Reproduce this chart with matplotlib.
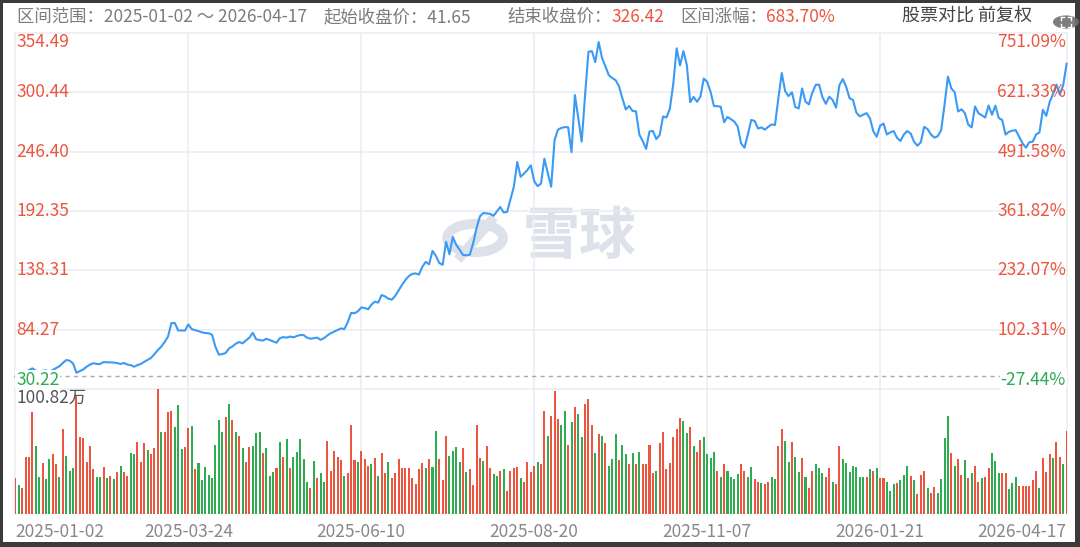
import matplotlib
matplotlib.use("Agg")
import matplotlib.pyplot as plt
from matplotlib.patches import Rectangle, Circle

plt.rcParams['font.family'] = ['Noto Sans CJK SC', 'DejaVu Sans']

W, H = 1080, 547

# ---- data ----
tick_idx = [0, 51, 102, 153, 204, 255, 310]
tick_labels = ['2025-01-02', '2025-03-24', '2025-06-10', '2025-08-20',
               '2025-11-07', '2026-01-21', '2026-04-17']

price_levels = [354.49, 300.44, 246.40, 192.35, 138.31, 84.27, 30.22]
pct_labels = ['751.09%', '621.33%', '491.58%', '361.82%', '232.07%', '102.31%', '-27.44%']

start_close = 41.65
end_close = 326.42
change_pct = '683.70%'
vol_max = 100.82  # 万

close = [
    41.6, 42.5, 43.0, 45.5, 47.5, 49.0, 47.0, 46.0, 46.8, 47.2,
    46.0, 47.5, 49.3, 51.0, 54.0, 56.6, 56.0, 53.5, 45.0, 46.5,
    48.0, 50.5, 52.5, 53.7, 53.0, 53.0, 54.8, 54.5, 54.5, 54.3,
    53.8, 53.0, 53.9, 52.5, 52.0, 50.5, 52.0, 53.0, 55.0, 56.8,
    58.5, 62.0, 65.7, 68.7, 73.0, 77.9, 90.3, 90.3, 83.6, 83.5,
    83.4, 89.0, 84.8, 83.8, 83.0, 81.8, 81.2, 81.0, 79.6, 68.5,
    61.5, 62.0, 63.0, 67.2, 69.0, 71.5, 73.0, 71.8, 74.5, 77.0,
    81.4, 75.5, 74.8, 74.3, 76.0, 74.8, 73.5, 72.4, 76.5, 77.5,
    77.0, 78.0, 77.3, 78.5, 79.4, 79.3, 77.0, 76.0, 76.5, 77.0,
    75.0, 76.5, 79.0, 81.0, 82.5, 84.0, 85.4, 84.8, 91.0, 99.5,
    99.2, 101.0, 104.5, 104.0, 102.8, 107.0, 109.8, 108.9, 115.8, 114.6,
    112.5, 111.6, 115.0, 120.0, 125.0, 129.5, 133.0, 135.0, 135.5, 134.5,
    141.5, 146.0, 143.8, 156.0, 151.5, 145.0, 143.3, 164.2, 153.0, 168.7,
    161.5, 157.0, 152.3, 152.0, 152.5, 163.0, 177.0, 187.5, 190.5, 190.2,
    189.8, 188.0, 192.0, 196.0, 191.0, 191.5, 203.0, 214.5, 237.0, 223.5,
    226.5, 229.8, 234.0, 219.5, 215.0, 217.3, 240.0, 227.0, 214.5, 257.0,
    266.5, 268.0, 268.8, 268.6, 246.0, 298.0, 277.0, 255.6, 298.0, 337.4,
    338.0, 328.0, 346.3, 331.7, 324.0, 316.0, 313.5, 311.5, 306.0, 295.0,
    284.8, 288.0, 283.4, 283.2, 262.0, 256.0, 249.0, 264.8, 265.2, 257.9,
    261.6, 278.5, 277.5, 285.5, 308.0, 340.5, 325.0, 338.0, 325.5, 291.5,
    296.3, 291.8, 296.4, 313.0, 310.0, 301.0, 288.0, 287.8, 287.3, 273.2,
    278.0, 276.0, 273.8, 269.3, 254.0, 250.0, 262.0, 275.3, 274.4, 267.5,
    268.5, 266.5, 269.0, 271.2, 270.7, 295.0, 318.0, 301.5, 297.0, 300.5,
    287.0, 285.8, 304.0, 292.0, 289.5, 300.0, 307.2, 307.5, 296.0, 290.0,
    296.5, 293.5, 286.5, 307.0, 312.5, 305.5, 295.0, 293.5, 282.0, 278.5,
    280.0, 281.5, 276.9, 265.0, 260.0, 270.0, 272.0, 262.0, 264.0, 265.2,
    259.0, 256.1, 262.0, 265.2, 263.0, 255.5, 251.8, 255.0, 269.0, 267.0,
    262.0, 259.2, 260.5, 266.0, 289.0, 314.8, 304.0, 300.5, 283.0, 285.0,
    281.5, 271.0, 268.5, 287.5, 281.5, 279.5, 277.5, 288.5, 280.0, 288.3,
    277.0, 275.3, 262.0, 264.5, 265.5, 266.0, 260.0, 254.0, 250.0, 255.0,
    255.5, 262.0, 264.0, 284.5, 279.0, 291.5, 299.0, 307.5, 298.5, 307.0,
    326.42,
]

# 成交量（万）
volume = [
    28.8, 23.4, 21.2, 46.2, 45.7, 82.5, 54.9, 29.6, 41.4, 28.5,
    44.4, 48.4, 40.1, 29.6, 68.6, 46.5, 34.7, 36.8, 96.0, 62.4,
    61.6, 42.2, 54.9, 36.0, 29.6, 29.6, 38.2, 28.8, 30.7, 28.2,
    33.9, 39.0, 33.6, 30.7, 49.5, 48.4, 58.1, 42.2, 57.0, 51.6,
    48.4, 53.5, 100.82, 66.4, 66.4, 82.5, 83.4, 69.9, 87.7, 52.7,
    53.8, 69.6, 71.0, 36.0, 40.9, 27.4, 38.2, 31.5, 28.8, 55.7,
    75.8, 66.4, 78.0, 88.7, 75.8, 66.4, 63.2, 53.0, 42.2, 53.8,
    54.9, 65.1, 66.4, 49.5, 53.0, 30.7, 34.1, 36.8, 58.1, 45.7,
    60.2, 36.8, 46.2, 50.3, 60.2, 44.4, 26.1, 20.7, 43.0, 28.8,
    32.8, 26.1, 58.9, 34.7, 50.8, 46.2, 43.6, 30.7, 33.3, 71.8,
    43.6, 42.2, 50.8, 44.4, 39.0, 40.1, 45.4, 30.7, 49.5, 32.8,
    42.2, 29.3, 33.3, 44.1, 36.8, 36.8, 36.8, 28.8, 24.2, 36.0,
    40.9, 36.8, 44.1, 38.2, 67.2, 44.1, 27.4, 63.2, 47.1, 50.8,
    53.8, 42.2, 53.0, 33.6, 36.0, 23.4, 71.8, 45.4, 43.0, 54.9,
    36.8, 32.3, 30.7, 34.7, 36.0, 18.8, 34.7, 36.8, 37.6, 28.8,
    26.1, 42.2, 34.1, 39.0, 42.2, 40.1, 83.4, 63.2, 79.3, 99.5,
    76.6, 71.8, 83.4, 55.7, 73.9, 86.6, 80.4, 62.4, 88.7, 92.8,
    71.8, 49.5, 64.5, 63.2, 57.0, 38.7, 44.1, 64.5, 43.6, 55.7,
    48.4, 40.1, 48.9, 40.1, 50.3, 40.1, 40.1, 55.7, 33.3, 34.7,
    57.0, 65.9, 36.0, 40.9, 62.4, 68.3, 77.7, 75.0, 65.0, 70.0,
    55.0, 50.0, 60.0, 62.0, 48.0, 45.0, 50.0, 35.0, 30.0, 40.0,
    35.0, 30.0, 28.0, 32.0, 40.0, 35.0, 30.0, 38.0, 28.0, 26.0,
    25.0, 24.0, 26.0, 30.0, 28.0, 55.0, 68.3, 59.2, 42.2, 58.4,
    46.2, 33.6, 45.4, 29.6, 20.7, 34.7, 40.3, 36.8, 32.8, 29.6,
    36.8, 26.1, 24.2, 54.9, 44.4, 40.9, 33.6, 38.7, 37.6, 29.6,
    29.6, 30.1, 36.0, 35.0, 36.8, 28.8, 28.8, 26.1, 18.8, 24.2,
    25.3, 27.4, 31.5, 39.0, 30.7, 27.4, 15.9, 31.5, 34.7, 21.2,
    16.7, 22.0, 16.7, 28.2, 61.0, 79.1, 49.5, 39.0, 44.4, 31.5,
    43.6, 28.8, 32.8, 38.7, 26.1, 28.8, 29.6, 36.8, 49.5, 43.0,
    32.8, 32.8, 33.3, 19.9, 25.3, 29.6, 22.9, 22.9, 22.9, 22.9,
    27.4, 34.7, 21.2, 45.4, 33.6, 48.4, 44.9, 58.4, 45.7, 40.3,
    67.2,
]

# r = 收涨, g = 收跌
direction = (
    "rgrrrrggrg" "grrgrgggrr" "rrrrggrgrg" "rgrrggrrrg" "rrrgrrrggg"
    "rrgrgggggg" "ggrgrgrgrr" "gggrgggrgr" "grgggggrgr" "ggrrrrrgrr"
    "rgrrrgrgrr" "grrrrrrrrr" "rgrggrrrgg" "ggrgrrrrgr" "rggrgrrrrg"
    "rrrrgrrgrr" "rggrgrggrr" "rgrgrgggrg" "grgrgrrrrg" "rrrrrrrggr"
    "grrggggrgr" "ggggrrggrr" "grrggrrggr" "ggrgrrgggr" "rgrrgggggg"
    "grgrgrrggg" "rgggrgrrrg" "rrggggrgrr" "grgrrgrrgg" "grrgggrrrr"
    "rrgrrrgrrgr"
)

# ---- colours ----
bg_frame = '#3b3b3b'
red = '#ec5640'
green = '#2fab52'
line_blue = '#3a9af5'
grid = '#e9ecf2'
gray_text = '#7c7c7c'

fig = plt.figure(figsize=(W / 100, H / 100), dpi=100, facecolor=bg_frame)
fig.patches.append(Rectangle((3 / W, 1 - 542 / H), (1075 - 3) / W, (542 - 3) / H,
                             transform=fig.transFigure, facecolor='white',
                             edgecolor='none', zorder=-10))

x0, x1 = 15.4, 1066.6
ax_p = fig.add_axes([x0 / W, 1 - 389 / H, (x1 - x0) / W, (389 - 33) / H])
ax_v = fig.add_axes([x0 / W, 1 - 514 / H, (x1 - x0) / W, (514 - 389) / H])
n = len(close)
for ax in (ax_p, ax_v):
    ax.set_xlim(0, n - 1)
    ax.axis('off')
    ax.patch.set_alpha(0)
ax_p.set_ylim(price_levels[-1], price_levels[0])
ax_v.set_ylim(0, vol_max)

# grid
for lv in price_levels:
    ax_p.axhline(lv, color=grid, lw=1.1, zorder=1, clip_on=False)
for t in tick_idx[1:-1]:
    ax_p.axvline(t, color=grid, lw=1.1, zorder=1)
    ax_v.axvline(t, color=grid, lw=1.1, zorder=1)
for t in (0, n - 1):
    ax_p.axvline(t, color=grid, lw=1.1, zorder=1, clip_on=False)
    ax_v.axvline(t, color=grid, lw=1.1, zorder=1, clip_on=False)

# watermark
wm = '#dde2ea'
ring = Circle((475 / W, 1 - 238 / H), 28 / W, transform=fig.transFigure,
              fill=False, ec=wm, lw=7, zorder=-5)
fig.patches.append(ring)
fig.lines.append(plt.Line2D([461 / W, 491 / W], [1 - 256 / H, 1 - 221 / H], color=wm, lw=7,
                            transform=fig.transFigure, zorder=-5))
fig.text(580 / W, 1 - 237 / H, '雪球', fontsize=41, color=wm, ha='center',
         va='center', fontweight='bold', zorder=-5)

# dashed start line
ax_p.axhline(start_close, color='#a9a9a9', lw=1, ls=(0, (3, 3)), zorder=2)

# price line
ax_p.plot(range(n), close, color=line_blue, lw=1.5, zorder=5, clip_on=False)

# volume bars
cols = [red if d == 'r' else green for d in direction[:n]]
ax_v.bar(range(n), volume, width=0.6, color=cols, zorder=3)

# axis labels
fs = 12.5
for lv, pl in zip(price_levels, pct_labels):
    c = green if lv < start_close else red
    va = 'center'
    if lv == price_levels[0]:
        va = 'top'
    elif lv == price_levels[-1]:
        va = 'bottom'
    tl = ax_p.text(0.2, lv, f'{lv:.2f}', color=c, fontsize=fs, ha='left', va=va, zorder=6)
    tr = ax_p.text(n - 1.2, lv, pl, color=c, fontsize=fs, ha='right', va=va, zorder=6)
    if lv == price_levels[-1]:
        for t in (tl, tr):
            t.set_bbox(dict(facecolor='white', edgecolor='none', pad=0.5))

ax_v.text(0.2, vol_max, f'{vol_max:.2f}万', color='#555555', fontsize=fs,
          ha='left', va='top', zorder=6)

for t, lab in zip(tick_idx, tick_labels):
    ha = 'center'
    if t == 0:
        ha = 'left'
    elif t == n - 1:
        ha = 'right'
    ax_v.annotate(lab, (t, 0), xytext=(0, -13), textcoords='offset points',
                  ha=ha, va='center', color='#888888', fontsize=fs)

# header
hy = 1 - 17 / H
fig.text(17 / W, hy, '区间范围：2025-01-02 ～ 2026-04-17', color=gray_text, fontsize=fs, va='center')
fig.text(323 / W, hy, f'起始收盘价：{start_close:.2f}', color=gray_text, fontsize=fs, va='center')
fig.text(507 / W, hy, '结束收盘价：', color=gray_text, fontsize=fs, va='center')
fig.text(611 / W, hy, f'{end_close:.2f}', color=red, fontsize=fs, va='center')
fig.text(680 / W, hy, '区间涨幅：', color=gray_text, fontsize=fs, va='center')
fig.text(766 / W, hy, change_pct, color=red, fontsize=fs, va='center')
fig.text(902 / W, hy, '股票对比 前复权', color='#444444', fontsize=13, va='center')

# top-right round icon (expand symbol drawn as small corner marks)
cx, cy = 1066, 22
fig.patches.append(Circle((cx / W, 1 - cy / H), 13 / W, transform=fig.transFigure,
                          facecolor='#6f6f6f', edgecolor='none', alpha=0.9, zorder=4))
for sx in (-1, 1):
    for sy in (-1, 1):
        px, py = cx + sx * 5, cy + sy * 5
        fig.lines.append(plt.Line2D([px / W, (px - sx * 3) / W], [1 - py / H, 1 - py / H],
                                    color='white', lw=1, transform=fig.transFigure, zorder=5))
        fig.lines.append(plt.Line2D([px / W, px / W], [1 - py / H, 1 - (py - sy * 3) / H],
                                    color='white', lw=1, transform=fig.transFigure, zorder=5))

fig.savefig('out.png', dpi=100, facecolor=bg_frame)
